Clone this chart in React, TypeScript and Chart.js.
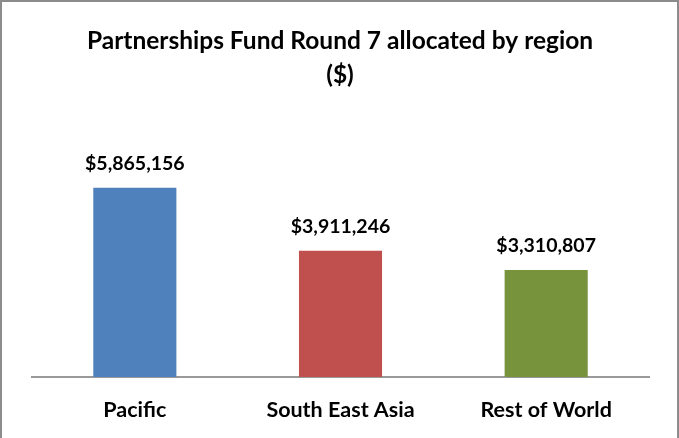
import React, { useEffect, useRef } from "react";
import { Chart, registerables } from "chart.js";

Chart.register(...registerables);

const categories = ["Pacific", "South East Asia", "Rest of World"];
const values = [5865156, 3911246, 3310807];
const barColors = ["#4F81BD", "#C0504D", "#77933C"];
const titleLines = ["Partnerships Fund Round 7 allocated by region", "($)"];

const FONT = "Lato, 'Open Sans', sans-serif";

const fmt = (v: number) => "$" + v.toLocaleString("en-US");

export default function App() {
  const ref = useRef<HTMLCanvasElement | null>(null);
  useEffect(() => {
    document.body.style.margin = "0";
    const canvas = ref.current!;
    const extras = {
      id: "extras",
      afterDraw(chart: any) {
        const ctx = chart.ctx;
        ctx.save();
        // frame
        ctx.strokeStyle = "#8c8c8c";
        ctx.lineWidth = 2;
        ctx.strokeRect(1, 1, chart.width - 2, chart.height + 4);
        // title
        ctx.fillStyle = "#000";
        ctx.textAlign = "center";
        ctx.textBaseline = "middle";
        ctx.font = `bold 24.5px ${FONT}`;
        ctx.fillText(titleLines[0], 340, 41);
        ctx.fillText(titleLines[1], 340, 75);
        // data labels
        ctx.font = `bold 19.5px ${FONT}`;
        const meta = chart.getDatasetMeta(0);
        meta.data.forEach((bar: any, i: number) => {
          ctx.fillText(fmt(values[i]), bar.x, bar.y - 24);
        });
        ctx.restore();
      },
    };
    const chart = new Chart(canvas, {
      type: "bar",
      data: {
        labels: categories,
        datasets: [
          {
            data: values,
            backgroundColor: barColors,
            borderWidth: 0,
            categoryPercentage: 1,
            barPercentage: 0.404,
          },
        ],
      },
      options: {
        animation: false,
        responsive: false,
        maintainAspectRatio: false,
        layout: { padding: { left: 32, right: 30, top: 151, bottom: 0 } },
        plugins: {
          legend: { display: false },
          title: { display: false },
          tooltip: { enabled: false },
        },
        scales: {
          x: {
            grid: { display: false, drawTicks: false },
            border: { display: true, color: "#999999", width: 2 },
            ticks: {
              color: "#000",
              font: { family: FONT, size: 21.5, weight: "bold" },
              padding: 20,
            },
            afterFit: (scale: any) => {
              scale.height = 61;
            },
          },
          y: {
            display: false,
            min: 0,
            max: 7000000,
          },
        },
      },
      plugins: [extras],
    });
    return () => chart.destroy();
  }, []);
  return (
    <div style={{ width: 679, height: 438 }}>
      <canvas ref={ref} width={679} height={438} style={{ display: "block" }} />
    </div>
  );
}
